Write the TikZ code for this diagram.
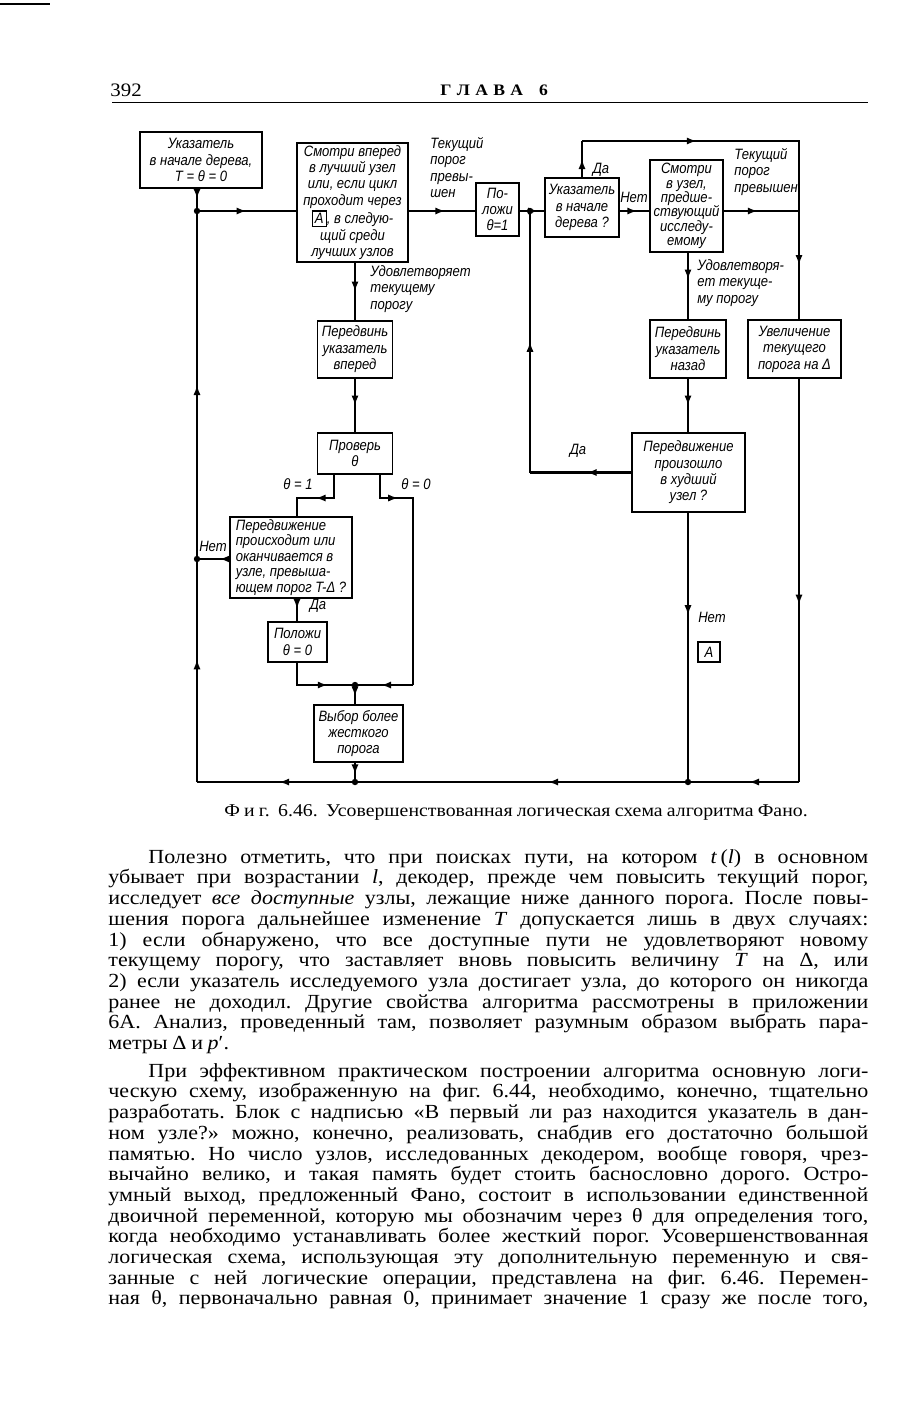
\documentclass[tikz,border=0pt]{standalone}
\usepackage{fontspec}
\setmainfont{Liberation Serif}
\newfontfamily\bodyfont[FakeStretch=1.1, WordSpace=0.85]{Liberation Serif}
\newfontfamily\chartfont[FakeStretch=0.87]{Liberation Sans}
\usetikzlibrary{arrows.meta,decorations.markings}

\newcommand{\chartsize}{\chartfont\itshape\fontsize{7.5pt}{8.2pt}\selectfont}
\newcommand{\bodyline}[1]{\hbox to 380pt{#1}}
\newcommand{\bodylast}[1]{\hbox{#1}}
\setlength{\fboxsep}{1pt}
\setlength{\fboxrule}{0.6pt}
\frenchspacing

\begin{document}
\begin{tikzpicture}[x=0.5pt, y=-0.5pt,
  block/.style={draw, line width=0.9pt, inner sep=1pt, align=center, font=\chartsize},
  note/.style={inner sep=0pt, align=left, font=\chartsize},
  wire/.style={line width=1.4pt},
  flow/.style={postaction={decorate}, decoration={markings,
    mark=at position #1 with {\arrow{Latex[length=5pt,width=3.6pt]}}}},
  flow/.default=0.5,
  joint/.style={circle, fill, inner sep=0pt, minimum size=3.2pt}]
  \fill[white] (0,0) rectangle (909,1421);
  \useasboundingbox (0,0) rectangle (909,1421);

  % page head
  \draw[line width=0.6pt] (0,4) -- (50,4);
  \node[anchor=base west, inner sep=0pt, font=\bodyfont\fontsize{9.5pt}{10pt}\selectfont] (page) at (110,96) {392};
  \node[anchor=base west, inner sep=0pt, font=\bodyfont\bfseries\fontsize{8pt}{9pt}\selectfont] (chapter) at (440,95) {Г\,\,Л\,\,А\,\,В\,\,А\quad 6};
  \draw[line width=0.5pt] (112,102) -- (868,102);

  % blocks
  \node[block, minimum width=61pt, minimum height=28pt] (start) at (201,160) {Указатель\\в начале дерева,\\T = θ = 0};
  \node[block, minimum width=55.5pt, minimum height=59.5pt] (look) at (352.5,202.5)
    {Смотри вперед\\в лучший узел\\или, если цикл\\проходит через\\\fbox{A}, в следую-\\щий среди\\лучших узлов};
  \node[block, minimum width=21.5pt, minimum height=26.5pt] (set1) at (497.5,209.5) {По-\\ложи\\θ=1};
  \node[block, minimum width=37pt, minimum height=29.5pt] (atroot) at (582,207.5) {Указатель\\в начале\\дерева ?};
  \node[block, minimum width=36.5pt, minimum height=46pt, line width=1.1pt,
    font=\chartfont\itshape\fontsize{7.5pt}{7.2pt}\selectfont] (back) at (686.5,206)
    {Смотри\\в узел,\\предше-\\ствующий\\исследу-\\емому};
  \node[block, minimum width=37.5pt, minimum height=28.5pt] (fwd) at (355,349.5) {Передвинь\\указатель\\вперед};
  \node[block, minimum width=38pt, minimum height=29pt] (bwd) at (688,349) {Передвинь\\указатель\\назад};
  \node[block, minimum width=46.5pt, minimum height=29pt] (incr) at (794.5,349) {Увеличение\\текущего\\порога на Δ};
  \node[block, minimum width=37.5pt, minimum height=20.5pt] (check) at (355,453.5) {Проверь\\θ};
  \node[block, minimum width=56.5pt, minimum height=39.5pt] (worse) at (688.5,472.5) {Передвижение\\произошло\\в худший\\узел ?};
  \node[block, minimum width=61pt, minimum height=40.5pt, align=left,
    font=\chartfont\itshape\fontsize{7.5pt}{7.8pt}\selectfont] (moving) at (291,557.5)
    {Передвижение\\происходит или\\оканчивается в\\узле, превыша-\\ющем порог T-Δ ?};
  \node[block, minimum width=29.5pt, minimum height=20pt] (set0) at (297.5,642) {Положи\\θ = 0};
  \node[block, minimum width=44.5pt, minimum height=28.5pt] (tight) at (358.5,733.5) {Выбор более\\жесткого\\порога};
  \node[block, line width=0.7pt, minimum width=11pt, minimum height=10pt, inner sep=0pt] (markA) at (709,652) {A};

  % labels
  \node[note, anchor=north west] (exceed1) at (430,137) {Текущий\\порог\\превы-\\шен};
  \node[note, anchor=north west] (ok1) at (370,265) {Удовлетворяет\\текущему\\порогу};
  \node[note] (yes1) at (601,170) {Да};
  \node[note] (no1) at (634,197) {Нет};
  \node[note, anchor=north west] (exceed2) at (734,148) {Текущий\\порог\\превышен};
  \node[note, anchor=north west] (ok2) at (697,259) {Удовлетворя-\\ет текуще-\\му порогу};
  \node[note] (yes2) at (578,451) {Да};
  \node[note] (no2) at (712,617) {Нет};
  \node[note] (th1) at (298,484) {θ = 1};
  \node[note] (th0) at (416,484) {θ = 0};
  \node[note] (no3) at (213,546) {Нет};
  \node[note] (yes3) at (318,606) {Да};

  % junctions and corners
  \coordinate (jstart) at (197,211);
  \coordinate (jyes) at (530,211);
  \coordinate (cyes) at (582,141);
  \coordinate (ctop) at (799,141);
  \coordinate (cright) at (799,211);
  \coordinate (cworse) at (530,472.5);
  \coordinate (jnot) at (688,782);
  \coordinate (cbr) at (799,782);
  \coordinate (jtight) at (355,782);
  \coordinate (cbl) at (197,782);
  \coordinate (jno) at (197,559);
  \coordinate (cl1) at (334,498);
  \coordinate (cl2) at (297,498);
  \coordinate (cr1) at (380,498);
  \coordinate (cr2) at (413,498);
  \coordinate (cr3) at (413,685);
  \coordinate (cset) at (297,685);
  \coordinate (jmerge) at (355,685);

  % connectors
  \draw[wire, flow=0.45] (start.south -| jstart) -- (jstart);
  \draw[wire, flow=0.5] (jstart) -- (jstart -| look.west);
  \draw[wire, flow=0.55] (look.east |- jstart) -- (set1.west |- jstart);
  \draw[wire, flow=0.75] (set1.east |- jstart) -- (atroot.west |- jstart);
  \draw[wire, flow=0.6] (atroot.east |- jstart) -- (back.west |- jstart);
  \draw[wire, flow=0.45] (back.east |- jstart) -- (cright);
  \draw[wire, flow=0.5] (atroot.north) -- (cyes);
  \draw[wire, flow=0.4] (cyes) -- (ctop) -- (cright);
  \draw[wire, flow=0.5] (cright) -- (incr.north -| cright);
  \draw[wire, flow=0.5] (look.south -| jmerge) -- (fwd.north);
  \draw[wire, flow=0.5] (fwd.south) -- (check.north);
  \draw[wire, flow=0.53] (check.south -| cl1) -- (cl1) -- (cl2) -- (moving.north -| cl2);
  \draw[wire, flow=0.17] (check.south -| cr1) -- (cr1) -- (cr2) -- (cr3);
  \draw[wire, flow=0.55] (cr3) -- (jmerge);
  \draw[wire, flow=0.45] (moving.south -| cl2) -- (set0.north -| cl2);
  \draw[wire, flow=0.66] (set0.south -| cl2) -- (cset) -- (jmerge);
  \draw[wire, flow=0.6] (jmerge) -- (tight.north -| jmerge);
  \draw[wire, flow=0.6] (tight.south -| jtight) -- (jtight);
  \draw[wire, flow=0.3] (moving.west |- jno) -- (jno);
  \draw[wire, flow=0.48] (jtight) -- (cbl);
  \draw[wire, flow=0.55] (cbl) -- (jno);
  \draw[wire, flow=0.5] (jno) -- (jstart);
  \draw[wire, flow=0.4] (back.south -| jnot) -- (bwd.north -| jnot);
  \draw[wire, flow=0.5] (bwd.south -| jnot) -- (worse.north -| jnot);
  \draw[wire, flow=0.44] (worse.west) -- (cworse);
  \draw[wire, flow=0.5] (cworse) -- (jyes);
  \draw[wire, flow=0.38] (worse.south -| jnot) -- (jnot);
  \draw[wire, flow=0.56] (incr.south -| cbr) -- (cbr);
  \draw[wire, flow=0.45] (cbr) -- (jnot);
  \draw[wire, flow=0.42] (jnot) -- (jtight);
  \foreach \j in {jstart,jyes,jno,jtight,jnot,jmerge}
    \node[joint] at (\j) {};

  % caption and text
  \node[anchor=base, inner sep=0pt, font=\bodyfont\fontsize{9pt}{9pt}\selectfont] (caption) at (516,816)
    {Ф\ и\ г.\ \ 6.46.\ \ Усовершенствованная логическая схема алгоритма Фано.};
  \node[anchor=north west, inner sep=0pt, font=\bodyfont\fontsize{10pt}{10.35pt}\selectfont] (body) at (108,849) {\vbox{\baselineskip=10.35pt
    \bodyline{\hskip20pt Полезно отметить, что при поисках пути, на котором \textit{t}\,(\textit{l}) в основном}
    \bodyline{убывает при возрастании \textit{l}, декодер, прежде чем повысить текущий порог,}
    \bodyline{исследует \textit{все доступные} узлы, лежащие ниже данного порога. После повы-}
    \bodyline{шения порога дальнейшее изменение \textit{T} допускается лишь в двух случаях:}
    \bodyline{1) если обнаружено, что все доступные пути не удовлетворяют новому}
    \bodyline{текущему порогу, что заставляет вновь повысить величину \textit{T} на Δ, или}
    \bodyline{2) если указатель исследуемого узла достигает узла, до которого он никогда}
    \bodyline{ранее не доходил. Другие свойства алгоритма рассмотрены в приложении}
    \bodyline{6А. Анализ, проведенный там, позволяет разумным образом выбрать пара-}
    \bodylast{метры Δ и \textit{p}′.}
    \vskip3.5pt
    \bodyline{\hskip20pt При эффективном практическом построении алгоритма основную логи-}
    \bodyline{ческую схему, изображенную на фиг. 6.44, необходимо, конечно, тщательно}
    \bodyline{разработать. Блок с надписью «В первый ли раз находится указатель в дан-}
    \bodyline{ном узле?» можно, конечно, реализовать, снабдив его достаточно большой}
    \bodyline{памятью. Но число узлов, исследованных декодером, вообще говоря, чрез-}
    \bodyline{вычайно велико, и такая память будет стоить баснословно дорого. Остро-}
    \bodyline{умный выход, предложенный Фано, состоит в использовании единственной}
    \bodyline{двоичной переменной, которую мы обозначим через θ для определения того,}
    \bodyline{когда необходимо устанавливать более жесткий порог. Усовершенствованная}
    \bodyline{логическая схема, использующая эту дополнительную переменную и свя-}
    \bodyline{занные с ней логические операции, представлена на фиг. 6.46. Перемен-}
    \bodyline{ная θ, первоначально равная 0, принимает значение 1 сразу же после того,}}};
\end{tikzpicture}
\end{document}
